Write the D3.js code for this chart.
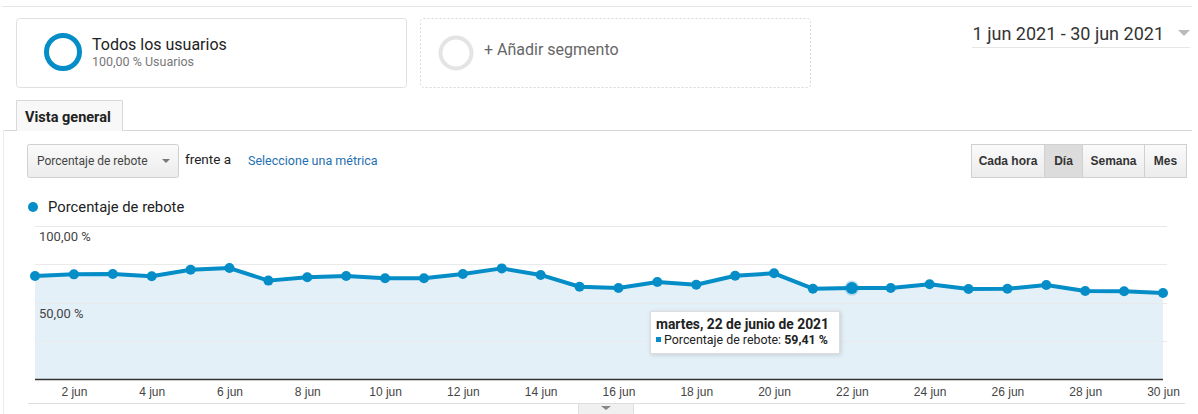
<!DOCTYPE html>
<html>
<head>
<meta charset="utf-8">
<script src="https://cdn.jsdelivr.net/npm/d3@7"></script>
<style>
  body { margin: 0; background: #fff; }
  text { font-family: Roboto, "Liberation Sans", Arial, sans-serif; }
  .narrow { font-family: "Liberation Sans Narrow", "Liberation Sans", Arial, sans-serif; }
</style>
</head>
<body>
<div id="chart"></div>
<script>
// data (bounce rate per day, June 2021)
let days = d3.range(1, 31)
let bounceRate = [67.3, 68.4, 68.6, 67.1, 71.4, 72.5, 64.3, 66.5, 67.3, 65.8,
                  65.8, 68.6, 72.3, 68.0, 60.3, 59.5, 63.4, 61.6, 67.5, 69.1,
                  59.0, 59.41, 59.5, 61.9, 58.8, 59.0, 61.4, 57.5, 57.3, 56.2]
let tickDays = [2, 4, 6, 8, 10, 12, 14, 16, 18, 20, 22, 24, 26, 28, 30]
let yLabels = [100, 50]
let gridValues = [25, 50, 75, 100]
let hoverDay = 22

let svgWidth = 1198
let svgHeight = 414
let blue = "#058dc7"

let svg = d3.select("#chart")
    .append("svg")
    .attr("width", svgWidth)
    .attr("height", svgHeight)

// ---------- header ----------
svg.append("line").attr("x1", 2).attr("x2", 1192).attr("y1", 6.5).attr("y2", 6.5).attr("stroke", "#e6e6e6")

svg.append("rect").attr("x", 16.5).attr("y", 18.5).attr("width", 390).attr("height", 69).attr("rx", 3)
    .attr("fill", "#fff").attr("stroke", "#e0e0e0")
svg.append("circle").attr("cx", 63).attr("cy", 52).attr("r", 16.5)
    .attr("fill", "none").attr("stroke", blue).attr("stroke-width", 5)
svg.append("text").attr("x", 92).attr("y", 50).attr("font-size", 16).attr("fill", "#222").text("Todos los usuarios")
svg.append("text").attr("x", 92).attr("y", 66).attr("font-size", 12.5).attr("fill", "#777").text("100,00 % Usuarios")

svg.append("rect").attr("x", 420.5).attr("y", 18.5).attr("width", 390).attr("height", 69).attr("rx", 3)
    .attr("fill", "#fff").attr("stroke", "#d8d8d8").attr("stroke-dasharray", "2,2")
svg.append("circle").attr("cx", 456).attr("cy", 53).attr("r", 15.5)
    .attr("fill", "none").attr("stroke", "#e4e4e4").attr("stroke-width", 4)
svg.append("text").attr("x", 484).attr("y", 55).attr("font-size", 16).attr("fill", "#666").text("+ Añadir segmento")

svg.append("text").attr("x", 1164).attr("y", 40).attr("text-anchor", "end").attr("font-size", 18)
    .attr("fill", "#333").text("1 jun 2021 - 30 jun 2021")
svg.append("path").attr("d", "M1178,30 L1190,30 L1184,36 Z").attr("fill", "#bbb")
svg.append("line").attr("x1", 972).attr("x2", 1190).attr("y1", 47.5).attr("y2", 47.5).attr("stroke", "#e6e6e6")

// tab
svg.append("line").attr("x1", 3).attr("x2", 1192).attr("y1", 130.5).attr("y2", 130.5).attr("stroke", "#d8d8d8")
svg.append("path").attr("d", "M16.5,131 L16.5,100.5 L122.5,100.5 L122.5,131")
    .attr("fill", "#f8f8f8").attr("stroke", "#d8d8d8")
svg.append("line").attr("x1", 3.5).attr("x2", 3.5).attr("y1", 130).attr("y2", 414).attr("stroke", "#ececec")
svg.append("text").attr("x", 25).attr("y", 122).attr("font-size", 14.5).attr("font-weight", "bold")
    .attr("fill", "#222").text("Vista general")

// metric selector
let grad = svg.append("defs").append("linearGradient").attr("id", "btn").attr("x1", 0).attr("x2", 0).attr("y1", 0).attr("y2", 1)
grad.append("stop").attr("offset", "0%").attr("stop-color", "#fafafa")
grad.append("stop").attr("offset", "100%").attr("stop-color", "#ececec")
svg.append("rect").attr("x", 27.5).attr("y", 144.5).attr("width", 151).attr("height", 33).attr("rx", 2)
    .attr("fill", "url(#btn)").attr("stroke", "#d0d0d0")
svg.append("text").attr("x", 37).attr("y", 165).attr("font-size", 12).attr("fill", "#444").text("Porcentaje de rebote")
svg.append("path").attr("d", "M162,159 L170,159 L166,163 Z").attr("fill", "#777")
svg.append("text").attr("x", 185).attr("y", 164).attr("font-size", 13.5).attr("fill", "#222").text("frente a")
svg.append("text").attr("x", 248).attr("y", 165).attr("font-size", 12.5).attr("fill", "#1f6fb0").text("Seleccione una métrica")

// period buttons
let buttons = [
    { label: "Cada hora", x0: 971, x1: 1044 },
    { label: "Día", x0: 1044, x1: 1082, on: true },
    { label: "Semana", x0: 1082, x1: 1144 },
    { label: "Mes", x0: 1144, x1: 1186 }
]
let btnGroup = svg.append("g")
btnGroup.selectAll("rect").data(buttons).enter().append("rect")
    .attr("x", d => d.x0 + 0.5).attr("y", 144.5)
    .attr("width", d => d.x1 - d.x0).attr("height", 33)
    .attr("fill", d => d.on ? "#dcdcdc" : "url(#btn)")
    .attr("stroke", "#d0d0d0")
btnGroup.selectAll("text").data(buttons).enter().append("text")
    .attr("class", "narrow")
    .attr("x", d => (d.x0 + d.x1) / 2 + 0.5).attr("y", 165)
    .attr("text-anchor", "middle").attr("font-size", 12).attr("font-weight", "bold")
    .attr("fill", "#333").text(d => d.label)

// legend
svg.append("circle").attr("cx", 33).attr("cy", 207).attr("r", 5).attr("fill", blue)
svg.append("text").attr("x", 48).attr("y", 212).attr("font-size", 14.8).attr("fill", "#222").text("Porcentaje de rebote")

// ---------- chart ----------
let xScale = d3.scaleLinear().domain([1, 30]).range([35, 1163])
let yScale = d3.scaleLinear().domain([0, 100]).range([379, 226])

let data = days.map((d, i) => ({ day: d, value: bounceRate[i] }))

let chart = svg.append("g")

chart.append("path")
    .datum(data)
    .attr("fill", "#e4f0f8")
    .attr("d", d3.area().x(d => xScale(d.day)).y0(yScale(0)).y1(d => yScale(d.value)))

chart.selectAll(".grid").data(gridValues).enter().append("line")
    .attr("class", "grid")
    .attr("x1", xScale(1)).attr("x2", xScale(30) + 4)
    .attr("y1", d => Math.round(yScale(d)) + 0.5).attr("y2", d => Math.round(yScale(d)) + 0.5)
    .attr("stroke", d => d === 100 ? "#e8e8e8" : "#eaeaea")

chart.selectAll(".ylab").data(yLabels).enter().append("text")
    .attr("class", "ylab")
    .attr("x", 39).attr("y", d => yScale(d) + 15)
    .attr("font-size", 13).attr("fill", "#444")
    .attr("font-family", "'Liberation Sans', Arial, sans-serif")
    .text(d => d3.format(".2f")(d).replace(".", ",") + " %")

chart.append("path")
    .datum(data)
    .attr("fill", "none")
    .attr("stroke", blue)
    .attr("stroke-width", 4)
    .attr("stroke-linejoin", "round")
    .attr("d", d3.line().x(d => xScale(d.day)).y(d => yScale(d.value)))

chart.selectAll(".dot").data(data).enter().append("circle")
    .attr("class", "dot")
    .attr("cx", d => xScale(d.day)).attr("cy", d => yScale(d.value))
    .attr("r", d => d.day === hoverDay ? 6 : 5)
    .attr("fill", blue)
    .attr("stroke", d => d.day === hoverDay ? "rgba(5,141,199,0.25)" : "none")
    .attr("stroke-width", 3)

// x axis
chart.append("line").attr("x1", xScale(1)).attr("x2", xScale(30))
    .attr("y1", 379.5).attr("y2", 379.5).attr("stroke", "#333").attr("stroke-width", 1.5)

let xAxis = d3.axisBottom(xScale)
    .tickValues(tickDays)
    .tickSize(0)
    .tickFormat(d => d + " jun")
let axisG = chart.append("g").attr("transform", "translate(0, 384)").call(xAxis)
axisG.select(".domain").remove()
axisG.selectAll("text").attr("class", "narrow").attr("font-size", 12).attr("fill", "#444")
    .attr("font-family", null)

svg.append("line").attr("x1", 28).attr("x2", 1185).attr("y1", 403.5).attr("y2", 403.5).attr("stroke", "#ddd")
svg.append("rect").attr("x", 578.5).attr("y", 403.5).attr("width", 55).attr("height", 12).attr("rx", 2)
    .attr("fill", "#f0f0f0").attr("stroke", "#ddd")
svg.append("path").attr("d", "M601,406 L611,406 L606,410 Z").attr("fill", "#888")

// tooltip
let hovered = data.find(d => d.day === hoverDay)
let tip = svg.append("g").attr("transform", "translate(650, 311)")
tip.append("rect").attr("x", 0.5).attr("y", 0.5).attr("width", 189).attr("height", 42)
    .attr("fill", "#fff").attr("stroke", "#ddd")
    .style("filter", "drop-shadow(1px 1px 2px rgba(0,0,0,0.15))")
tip.append("text").attr("x", 6).attr("y", 18).attr("font-size", 13.8).attr("font-weight", "bold")
    .attr("font-family", "'Liberation Sans', Arial, sans-serif")
    .attr("fill", "#222").text("martes, 22 de junio de 2021")
tip.append("rect").attr("x", 6).attr("y", 26).attr("width", 5).attr("height", 5).attr("fill", blue)
let line2 = tip.append("text").attr("x", 14).attr("y", 33).attr("font-size", 12.4)
    .attr("font-family", "'Liberation Sans', Arial, sans-serif").attr("fill", "#222")
line2.append("tspan").text("Porcentaje de rebote: ")
line2.append("tspan").attr("font-weight", "bold").text(d3.format(".2f")(hovered.value).replace(".", ",") + " %")
</script>
</body>
</html>
